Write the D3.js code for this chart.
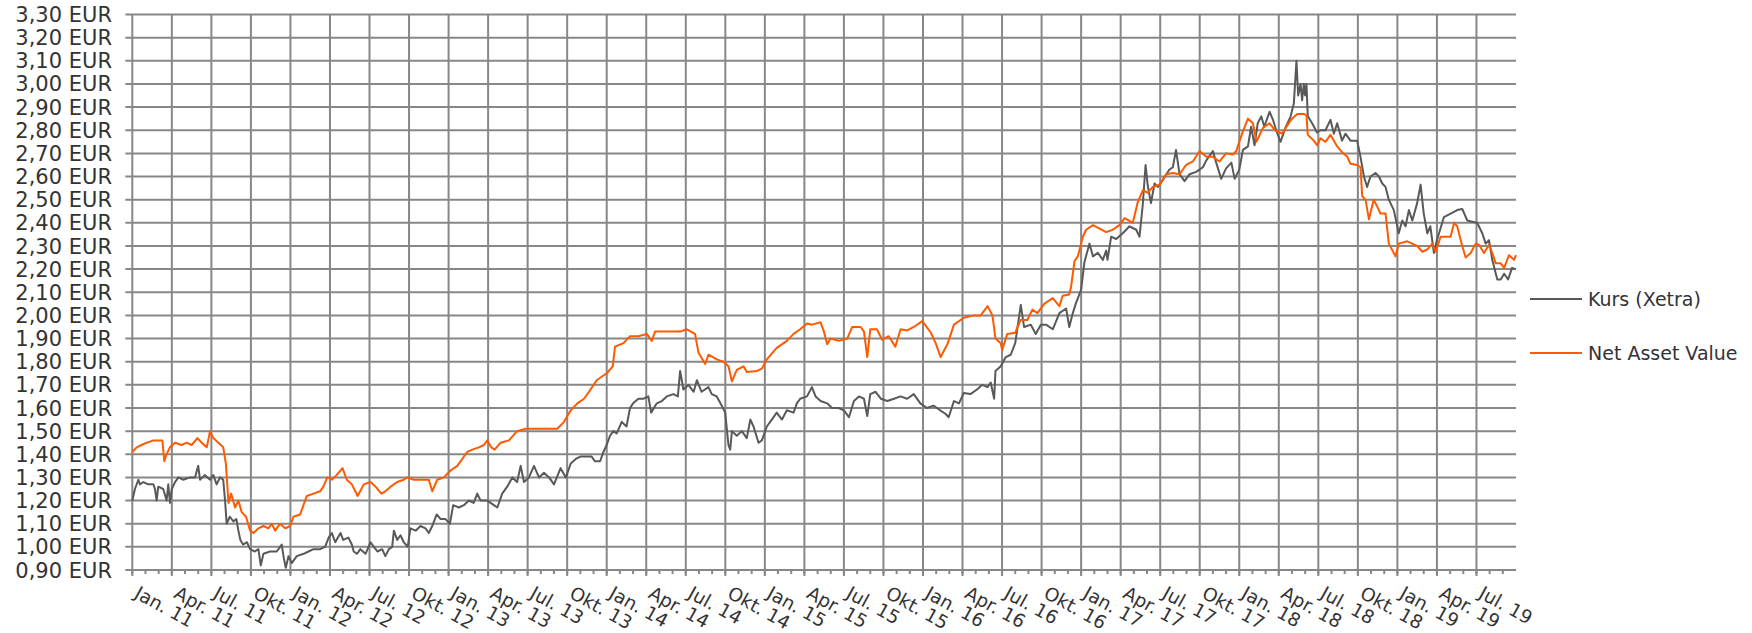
<!DOCTYPE html>
<html><head><meta charset="utf-8">
<script src="https://cdn.jsdelivr.net/npm/d3@7"></script>
<style>
body{margin:0;background:#fff;}
svg{display:block;}
text{font-family:"DejaVu Sans",Verdana,sans-serif;fill:#333;}
</style>
</head><body><svg id="c" width="1752" height="633"></svg>
<script>
// ---- data (x = months since Jan 2011, y = EUR) ----
const seriesNames = ["Kurs (Xetra)", "Net Asset Value"];
const yTickValues = [0.9,1.0,1.1,1.2,1.3,1.4,1.5,1.6,1.7,1.8,1.9,2.0,2.1,2.2,2.3,2.4,2.5,2.6,2.7,2.8,2.9,3.0,3.1,3.2,3.3];
const quarterNames = ["Jan.","Apr.","Jul.","Okt."];
const yearLabels = ["11","12","13","14","15","16","17","18","19"];

const kursData = [
[0.0,1.20],[0.2,1.25],[0.46,1.29],[0.58,1.27],[0.84,1.28],[1.2,1.27],[1.6,1.27],[1.72,1.25],[1.85,1.20],[1.97,1.26],
[2.35,1.25],[2.6,1.20],[2.73,1.27],[2.86,1.19],[3.0,1.25],[3.24,1.28],[3.5,1.30],[3.87,1.29],[4.38,1.30],[4.76,1.30],
[5.0,1.35],[5.14,1.29],[5.5,1.31],[5.9,1.29],[6.15,1.31],[6.4,1.27],[6.66,1.30],[6.9,1.29],[7.04,1.20],[7.16,1.10],
[7.4,1.13],[7.67,1.11],[7.9,1.12],[8.05,1.07],[8.2,1.03],[8.4,1.01],[8.7,1.02],[8.94,0.99],[9.3,0.98],[9.57,0.99],
[9.75,0.92],[9.95,0.97],[10.45,0.98],[10.96,0.98],[11.34,1.01],[11.5,0.95],[11.65,0.91],[11.85,0.96],[12.1,0.93],[12.48,0.96],
[13.0,0.97],[13.37,0.98],[13.75,0.99],[14.25,0.99],[14.63,1.00],[14.9,1.04],[15.14,1.06],[15.4,1.02],[15.8,1.06],[16.0,1.03],
[16.4,1.04],[16.66,1.01],[16.8,0.98],[17.06,0.97],[17.3,0.99],[17.7,0.97],[18.08,1.02],[18.33,1.00],[18.6,0.98],[18.96,0.99],
[19.2,0.96],[19.47,0.99],[19.72,1.00],[19.85,1.07],[20.1,1.03],[20.35,1.05],[20.6,1.02],[20.9,1.00],[21.1,1.08],[21.5,1.07],
[21.87,1.09],[22.25,1.08],[22.5,1.06],[22.76,1.09],[23.1,1.14],[23.4,1.12],[23.77,1.12],[24.1,1.10],[24.35,1.18],[24.78,1.17],
[25.16,1.18],[25.54,1.20],[25.9,1.19],[26.18,1.23],[26.43,1.20],[26.94,1.20],[27.44,1.18],[27.7,1.17],[28.07,1.23],[28.45,1.26],
[28.84,1.30],[29.2,1.28],[29.47,1.35],[29.72,1.28],[30.1,1.30],[30.48,1.35],[30.86,1.30],[31.24,1.32],[31.62,1.30],[32.0,1.27],
[32.5,1.34],[32.9,1.30],[33.27,1.36],[33.65,1.38],[34.0,1.39],[34.48,1.39],[34.86,1.39],[35.1,1.37],[35.5,1.37],[35.75,1.41],
[36.0,1.44],[36.25,1.48],[36.5,1.50],[36.76,1.49],[37.14,1.54],[37.5,1.52],[37.77,1.60],[38.0,1.62],[38.4,1.64],[38.8,1.64],
[39.16,1.65],[39.37,1.58],[39.8,1.62],[40.18,1.63],[40.56,1.65],[41.06,1.66],[41.4,1.65],[41.57,1.76],[41.82,1.68],[42.2,1.70],
[42.6,1.67],[42.84,1.72],[43.2,1.67],[43.72,1.69],[43.97,1.66],[44.35,1.65],[44.73,1.61],[44.99,1.58],[45.24,1.44],[45.37,1.42],
[45.5,1.50],[45.87,1.48],[46.25,1.50],[46.63,1.47],[46.9,1.55],[47.14,1.52],[47.52,1.45],[47.77,1.46],[48.15,1.52],[48.53,1.55],
[48.9,1.58],[49.3,1.55],[49.67,1.59],[50.18,1.58],[50.43,1.62],[50.68,1.64],[51.2,1.65],[51.57,1.69],[51.85,1.65],[52.23,1.63],
[52.73,1.62],[53.1,1.60],[53.6,1.60],[54.0,1.59],[54.38,1.56],[54.76,1.63],[55.14,1.65],[55.52,1.64],[55.77,1.565],[56.0,1.66],
[56.4,1.67],[56.8,1.64],[57.3,1.63],[57.8,1.64],[58.3,1.65],[58.8,1.64],[59.3,1.66],[59.8,1.62],[60.3,1.60],[60.8,1.61],
[61.3,1.59],[61.7,1.575],[61.95,1.56],[62.35,1.63],[62.73,1.62],[63.1,1.665],[63.6,1.66],[64.1,1.68],[64.5,1.70],[64.9,1.69],
[65.14,1.71],[65.4,1.64],[65.5,1.76],[65.9,1.78],[66.28,1.82],[66.66,1.83],[67.0,1.88],[67.42,2.045],[67.67,1.95],[68.18,1.96],
[68.56,1.92],[68.94,1.96],[69.34,1.96],[69.85,1.94],[70.35,2.01],[70.86,2.03],[71.1,1.95],[71.37,2.01],[71.62,2.055],[72.0,2.11],
[72.25,2.23],[72.63,2.31],[72.9,2.255],[73.27,2.27],[73.65,2.24],[73.9,2.28],[74.0,2.24],[74.28,2.34],[74.66,2.33],[75.16,2.355],
[75.67,2.385],[76.18,2.37],[76.43,2.34],[76.68,2.48],[76.89,2.65],[77.06,2.56],[77.3,2.485],[77.57,2.57],[77.82,2.555],[78.2,2.585],
[78.7,2.63],[78.96,2.64],[79.2,2.715],[79.47,2.61],[79.85,2.58],[80.23,2.61],[80.73,2.62],[81.24,2.64],[81.5,2.67],[82.0,2.71],
[82.25,2.66],[82.63,2.59],[83.0,2.635],[83.4,2.66],[83.65,2.59],[84.0,2.63],[84.28,2.715],[84.66,2.73],[84.9,2.815],[85.16,2.735],
[85.4,2.83],[85.67,2.86],[85.9,2.815],[86.3,2.88],[86.56,2.845],[86.8,2.80],[87.13,2.75],[87.5,2.81],[87.9,2.86],[88.14,2.915],
[88.34,3.10],[88.47,2.95],[88.65,3.00],[88.77,2.93],[88.9,3.00],[89.0,2.95],[89.1,3.00],[89.2,2.86],[89.53,2.83],[89.9,2.79],
[90.16,2.80],[90.54,2.80],[90.92,2.845],[91.18,2.785],[91.43,2.83],[91.8,2.755],[92.06,2.785],[92.44,2.755],[92.95,2.755],[93.2,2.685],
[93.46,2.60],[93.7,2.555],[93.96,2.60],[94.34,2.615],[94.6,2.60],[94.85,2.57],[95.1,2.555],[95.35,2.50],[95.73,2.455],[96.1,2.355],
[96.37,2.41],[96.62,2.385],[96.87,2.455],[97.13,2.41],[97.5,2.485],[97.76,2.565],[98.0,2.44],[98.27,2.355],[98.5,2.385],[98.77,2.27],
[99.0,2.325],[99.53,2.425],[100.04,2.44],[100.54,2.455],[100.92,2.46],[101.3,2.41],[101.68,2.405],[102.06,2.40],[102.44,2.355],[102.7,2.31],
[102.95,2.325],[103.2,2.24],[103.58,2.155],[103.84,2.155],[104.1,2.18],[104.4,2.155],[104.7,2.205],[104.97,2.20]
];

const navData = [
[0.0,1.41],[0.33,1.43],[0.7,1.44],[1.09,1.45],[1.6,1.46],[2.1,1.46],[2.28,1.46],[2.43,1.37],[2.6,1.40],[2.86,1.43],
[3.24,1.45],[3.75,1.44],[4.13,1.45],[4.5,1.44],[4.94,1.47],[5.27,1.45],[5.65,1.43],[5.9,1.50],[6.15,1.47],[6.53,1.45],
[6.9,1.43],[7.1,1.36],[7.3,1.19],[7.5,1.23],[7.8,1.17],[8.05,1.20],[8.3,1.15],[8.63,1.13],[8.94,1.07],[9.2,1.06],
[9.57,1.08],[9.95,1.09],[10.33,1.08],[10.58,1.10],[10.84,1.07],[11.2,1.10],[11.6,1.08],[11.97,1.09],[12.23,1.13],[12.73,1.14],
[12.99,1.18],[13.24,1.22],[13.75,1.23],[14.25,1.24],[14.5,1.26],[14.8,1.30],[15.14,1.29],[15.5,1.31],[15.95,1.34],[16.28,1.29],
[16.66,1.27],[17.1,1.22],[17.57,1.27],[18.08,1.28],[18.46,1.26],[18.9,1.23],[19.2,1.24],[19.6,1.26],[20.1,1.28],[20.6,1.29],
[20.86,1.30],[21.37,1.29],[22.0,1.29],[22.5,1.29],[22.76,1.24],[23.14,1.29],[23.65,1.30],[24.15,1.33],[24.66,1.35],[25.04,1.38],
[25.42,1.41],[25.8,1.42],[26.3,1.43],[26.68,1.44],[26.94,1.46],[27.24,1.43],[27.5,1.42],[27.95,1.45],[28.58,1.46],[29.2,1.50],
[29.85,1.51],[30.7,1.51],[31.5,1.51],[32.25,1.51],[32.76,1.54],[33.27,1.59],[33.77,1.62],[34.28,1.64],[34.66,1.67],[35.24,1.72],
[36.0,1.75],[36.46,1.78],[36.63,1.865],[37.27,1.88],[37.77,1.91],[38.4,1.91],[39.04,1.92],[39.42,1.89],[39.67,1.93],[40.56,1.93],
[41.57,1.93],[42.08,1.94],[42.7,1.92],[42.96,1.84],[43.47,1.79],[43.72,1.83],[44.35,1.81],[44.86,1.80],[45.24,1.78],[45.5,1.715],
[45.87,1.765],[46.38,1.78],[46.63,1.755],[47.4,1.76],[47.77,1.77],[48.15,1.81],[48.9,1.86],[49.67,1.89],[50.18,1.92],[50.68,1.94],
[51.2,1.965],[51.57,1.96],[52.23,1.97],[52.48,1.93],[52.73,1.875],[52.99,1.90],[53.6,1.89],[54.25,1.90],[54.63,1.95],[55.27,1.95],
[55.52,1.93],[55.77,1.82],[56.0,1.94],[56.5,1.94],[56.9,1.895],[57.4,1.91],[57.9,1.865],[58.3,1.94],[58.8,1.935],[59.3,1.95],
[59.95,1.975],[60.6,1.925],[60.96,1.88],[61.34,1.82],[61.85,1.875],[62.35,1.96],[63.1,1.99],[63.87,2.00],[64.38,2.00],[64.9,2.04],
[65.27,2.00],[65.5,1.90],[65.9,1.88],[66.0,1.85],[66.4,1.92],[67.0,1.925],[67.4,1.98],[67.92,1.98],[68.3,2.025],[68.68,2.01],
[69.2,2.05],[69.85,2.075],[70.35,2.04],[70.6,2.085],[71.1,2.09],[71.24,2.125],[71.5,2.235],[71.75,2.255],[72.13,2.34],[72.38,2.37],
[72.9,2.39],[73.4,2.375],[73.9,2.36],[74.4,2.37],[74.9,2.39],[75.3,2.42],[75.92,2.40],[76.3,2.49],[76.68,2.54],[77.06,2.53],
[77.44,2.555],[77.95,2.565],[78.46,2.61],[78.96,2.615],[79.47,2.61],[79.97,2.65],[80.48,2.665],[80.99,2.71],[81.5,2.685],[82.0,2.685],
[82.5,2.665],[83.0,2.70],[83.52,2.695],[83.77,2.71],[84.0,2.75],[84.28,2.795],[84.66,2.85],[85.04,2.83],[85.3,2.75],[85.8,2.81],
[86.3,2.83],[86.7,2.80],[87.25,2.785],[87.63,2.82],[88.0,2.85],[88.4,2.87],[88.9,2.87],[89.1,2.865],[89.2,2.78],[89.66,2.755],
[89.9,2.735],[90.16,2.765],[90.54,2.75],[90.92,2.78],[91.43,2.73],[91.8,2.705],[92.2,2.685],[92.44,2.655],[92.95,2.65],[93.2,2.64],
[93.33,2.515],[93.58,2.50],[93.84,2.415],[94.2,2.50],[94.47,2.47],[94.72,2.44],[95.1,2.44],[95.35,2.31],[95.86,2.255],[96.1,2.31],
[96.75,2.32],[97.5,2.30],[97.9,2.275],[98.27,2.285],[98.65,2.31],[98.9,2.275],[99.28,2.34],[100.04,2.34],[100.3,2.40],[100.54,2.385],
[100.92,2.30],[101.18,2.25],[101.56,2.27],[101.94,2.31],[102.19,2.305],[102.57,2.27],[102.95,2.305],[103.2,2.27],[103.46,2.225],[103.84,2.225],
[104.1,2.205],[104.47,2.26],[104.85,2.24],[105.0,2.26]
];

// ---- layout ----
const svg = d3.select("#c");
const L = 132.3, R = 1516, T = 14.5, B = 570;
const x = d3.scaleLinear().domain([0, 105]).range([L, R]);
const y = d3.scaleLinear().domain([0.9, 3.3]).range([B, T]);
const gridColor = "#878787";
const fmt = v => d3.format(".2f")(v).replace(".", ",") + " EUR";

// horizontal gridlines + y ticks
const gy = svg.append("g");
gy.selectAll("line").data(yTickValues).join("line")
  .attr("x1", L - 7).attr("x2", R)
  .attr("y1", d => y(d)).attr("y2", d => y(d))
  .attr("stroke", gridColor).attr("stroke-width", 2);
gy.selectAll("text").data(yTickValues).join("text")
  .attr("x", 112).attr("y", d => y(d)).attr("dy", "0.36em")
  .attr("text-anchor", "end").attr("font-size", 21)
  .text(fmt);

// vertical gridlines at quarters, minor ticks at months
const quarters = d3.range(0, 105, 3);
const months = d3.range(0, 105, 1);
const gx = svg.append("g");
gx.selectAll("line.minor").data(months).join("line").attr("class","minor")
  .attr("x1", d => x(d)).attr("x2", d => x(d))
  .attr("y1", B).attr("y2", B + 4)
  .attr("stroke", gridColor).attr("stroke-width", 2);
gx.selectAll("line.major").data(quarters).join("line").attr("class","major")
  .attr("x1", d => x(d)).attr("x2", d => x(d))
  .attr("y1", T).attr("y2", B + 6)
  .attr("stroke", gridColor).attr("stroke-width", 2);

// x labels (rotated single line)
gx.selectAll("text").data(quarters).join("text")
  .attr("transform", d => `translate(${x(d) + 1},${597}) rotate(29)`)
  .attr("font-size", 18.5)
  .text(d => quarterNames[(d / 3) % 4] + " " + yearLabels[Math.floor(d / 12)]);

// lines
const line = d3.line().x(d => x(d[0])).y(d => y(d[1]));
svg.append("path").datum(kursData).attr("d", line)
  .attr("fill", "none").attr("stroke", "#595959").attr("stroke-width", 2).attr("stroke-linejoin","round");
svg.append("path").datum(navData).attr("d", line)
  .attr("fill", "none").attr("stroke", "#ff5a00").attr("stroke-width", 2).attr("stroke-linejoin","round");

// legend
const legColors = ["#595959", "#ff5a00"];
const legY = [299, 353];
const lg = svg.append("g");
seriesNames.forEach((n, i) => {
  lg.append("line").attr("x1", 1530).attr("x2", 1582).attr("y1", legY[i]).attr("y2", legY[i])
    .attr("stroke", legColors[i]).attr("stroke-width", 2);
  lg.append("text").attr("x", 1588).attr("y", legY[i]).attr("dy", "0.36em")
    .attr("font-size", 19).text(n);
});
</script>
</body></html>
